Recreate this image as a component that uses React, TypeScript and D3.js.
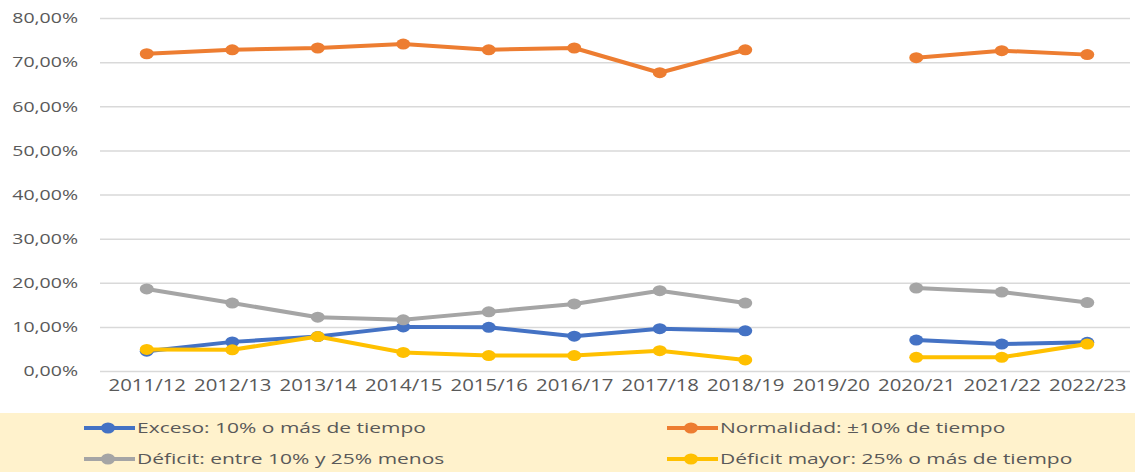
import React, { useRef, useEffect } from 'react';
import * as d3 from 'd3';

// --- Data ---
const categories = ['2011/12', '2012/13', '2013/14', '2014/15', '2015/16', '2016/17', '2017/18', '2018/19', '2019/20', '2020/21', '2021/22', '2022/23'];
const exceso = [4.5, 6.6, 7.8, 10.0, 9.9, 7.9, 9.6, 9.1, null, 7.0, 6.1, 6.5];
const normalidad = [71.9, 72.8, 73.2, 74.1, 72.8, 73.2, 67.6, 72.8, null, 71.0, 72.6, 71.7];
const deficit = [18.6, 15.4, 12.2, 11.6, 13.4, 15.2, 18.2, 15.4, null, 18.8, 17.9, 15.5];
const deficitMayor = [4.9, 4.8, 7.8, 4.2, 3.5, 3.5, 4.6, 2.5, null, 3.1, 3.1, 6.1];
const yTicks = [0, 10, 20, 30, 40, 50, 60, 70, 80];

const series = [
  { name: 'Exceso: 10% o más de tiempo', values: exceso, color: '#4472C4' },
  { name: 'Normalidad: ±10% de tiempo', values: normalidad, color: '#ED7D31' },
  { name: 'Déficit: entre 10% y 25% menos', values: deficit, color: '#A5A5A5' },
  { name: 'Déficit mayor: 25% o más de tiempo', values: deficitMayor, color: '#FFC000' },
];

const W = 1135;
const H = 472;
const FONT = '"Open Sans", sans-serif';
const SX = 1.3; // the source picture is stretched horizontally

const App = () => {
  const svgRef = useRef<SVGSVGElement>(null);

  useEffect(() => {
    const svg = d3.select(svgRef.current).html('');

    const x = d3.scalePoint<string>().domain(categories).range([104, 1130]).padding(0.5);
    const y = d3.scaleLinear().domain([0, 80]).range([371, 18]);
    const es = d3.formatLocale({ decimal: ',', thousands: '.', grouping: [3], currency: ['', '€'] });
    const fmt = es.format('.2f');

    // legend band
    svg.append('rect').attr('x', 0).attr('y', 413).attr('width', W).attr('height', H - 413).attr('fill', '#FFF2CC');

    // --- Y axis + grid ---
    const yAxis = d3.axisLeft(y).tickValues(yTicks).tickSize(-(1130 - 100)).tickPadding(0)
      .tickFormat(d => fmt(d as number) + '%');
    const gy = svg.append('g').attr('transform', 'translate(100,0)').call(yAxis);
    gy.select('.domain').remove();
    gy.selectAll('.tick line').attr('stroke', '#D9D9D9').attr('stroke-width', 1.5);
    gy.selectAll('.tick text')
      .attr('x', 0)
      .attr('transform', `translate(-22,0) scale(${SX},1)`)
      .attr('fill', '#595959')
      .style('font-family', FONT)
      .style('font-size', '15px');

    // --- X axis labels ---
    const xAxis = d3.axisBottom(x).tickSize(0).tickPadding(0);
    const gx = svg.append('g').attr('transform', 'translate(0,371)').call(xAxis);
    gx.select('.domain').remove();
    gx.selectAll('.tick text')
      .attr('y', 0)
      .attr('dy', 0)
      .attr('transform', 'translate(0,20) scale(1.2,1)')
      .attr('fill', '#595959')
      .style('font-family', FONT)
      .style('font-size', '17px');

    // --- Lines ---
    const line = d3.line<number | null>()
      .defined(d => d !== null)
      .x((d, i) => x(categories[i]) as number)
      .y(d => y(d as number));

    series.forEach(s => {
      svg.append('path')
        .datum(s.values)
        .attr('fill', 'none')
        .attr('stroke', s.color)
        .attr('stroke-width', 4)
        .attr('stroke-linejoin', 'round')
        .attr('d', line);
      svg.append('g').selectAll('ellipse')
        .data(s.values.map((v, i) => ({ v, c: categories[i] })).filter(d => d.v !== null))
        .join('ellipse')
        .attr('cx', d => x(d.c) as number)
        .attr('cy', d => y(d.v as number))
        .attr('rx', 7)
        .attr('ry', 5.5)
        .attr('fill', s.color);
    });

    // --- Legend ---
    const legendX = [84, 667];
    const legendY = [428, 459];
    series.forEach((s, i) => {
      const lx = legendX[i % 2];
      const ly = legendY[Math.floor(i / 2)];
      const g = svg.append('g').attr('transform', `translate(${lx},${ly})`);
      g.append('line').attr('x1', 0).attr('x2', 51).attr('y1', 0).attr('y2', 0)
        .attr('stroke', s.color).attr('stroke-width', 4);
      g.append('ellipse').attr('cx', 24).attr('cy', 0).attr('rx', 7).attr('ry', 5.5).attr('fill', s.color);
      g.append('text')
        .attr('transform', `translate(53,0) scale(1.4,1)`)
        .attr('dy', '0.35em')
        .attr('fill', '#595959')
        .style('font-family', FONT)
        .style('font-size', '15px')
        .text(s.name);
    });
  }, []);

  return (
    <svg ref={svgRef} width={W} height={H} style={{ position: 'absolute', left: 0, top: 0, background: '#fff' }}></svg>
  );
};

export default App;
